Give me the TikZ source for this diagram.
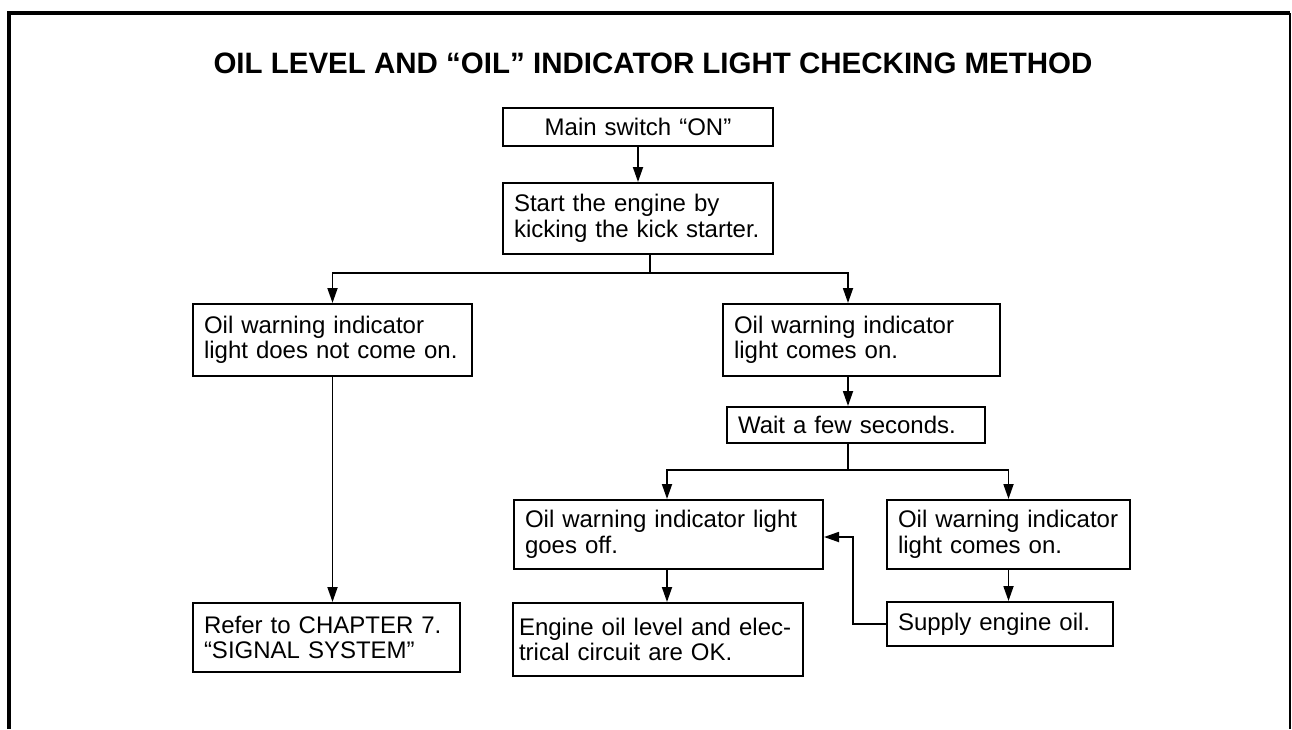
\documentclass[tikz,border=0pt]{standalone}
\usepackage{fontspec}
\setmainfont{Liberation Sans}
\usepackage{tikz}
\usetikzlibrary{arrows.meta, positioning, calc}

\begin{document}
\begin{tikzpicture}[x=1pt, y=-1pt,
		box/.style={draw, line width=2pt, align=left, inner xsep=11pt, inner ysep=0pt, font=\fontsize{24}{25.5}\selectfont},
		arr/.style={line width=1.8pt, -{Triangle[length=15pt, width=10pt]}},
		link/.style={line width=1.8pt}]
			\useasboundingbox (0,0) rectangle (1292,729);
			\draw[line width=4.5pt] (9,729) -- (9,13) -- (1290,13);
			\draw[line width=2pt] (1290,13) -- (1290,729);
			\node[font=\fontsize{29.5}{32}\selectfont\bfseries] (title) at (653,63) {OIL LEVEL AND “OIL” INDICATOR LIGHT CHECKING METHOD};
			\node[box, align=center, text width=248pt, minimum height=38pt] (main) at (638,127) {Main switch “ON”};
			\node[box, text width=248pt, minimum height=71pt] (start) at (638,218.5) {Start the engine by\\kicking the kick starter.};
			\node[box, text width=257pt, minimum height=72pt] (nolight) at (332.5,340) {Oil warning indicator\\light does not come on.};
			\node[box, text width=255pt, minimum height=72pt] (lighton) at (861.5,340) {Oil warning indicator\\light comes on.};
			\node[box, text width=236pt, minimum height=36pt] (wait) at (856,425) {Wait a few seconds.};
			\node[box, text width=287pt, minimum height=69pt] (offlight) at (668.5,534.5) {Oil warning indicator light\\goes off.};
			\node[box, text width=221pt, minimum height=69pt] (stillon) at (1008.5,534.5) {Oil warning indicator\\light comes on.};
			\node[box, text width=245pt, minimum height=69pt] (refer) at (326.5,637.5) {Refer to CHAPTER 7.\\“SIGNAL SYSTEM”};
			\node[box, inner xsep=6pt, text width=278pt, minimum height=73pt] (okbox) at (658,639.5) {\mbox{Engine oil level and elec-}\\trical circuit are OK.};
			\node[box, text width=204pt, minimum height=44pt] (supply) at (1000,624) {Supply engine oil.};
			\coordinate (split1) at (650,273);
			\coordinate (split2) at (848,470);
			\coordinate (back) at (853,537);
			\draw[arr] (main) -- (start);
			\draw[link] (start.south -| split1) -- (split1);
			\draw[arr] (split1) -| (nolight.north);
			\draw[arr] (split1) -| (split2 |- lighton.north);
			\draw[arr] (lighton.south -| split2) -- (wait.north -| split2);
			\draw[link] (wait.south -| split2) -- (split2);
			\draw[arr] (split2) -| (offlight.north -| 667,0);
			\draw[arr] (split2) -| (stillon.north);
			\draw[arr] (nolight.south) -- (nolight.south |- refer.north);
			\draw[arr] (offlight.south -| 667,0) -- (okbox.north -| 667,0);
			\draw[arr] (stillon.south) -- (stillon.south |- supply.north);
			\draw[arr] (supply.west) -| (back) -- (offlight.east |- back);
		\end{tikzpicture}
\end{document}
